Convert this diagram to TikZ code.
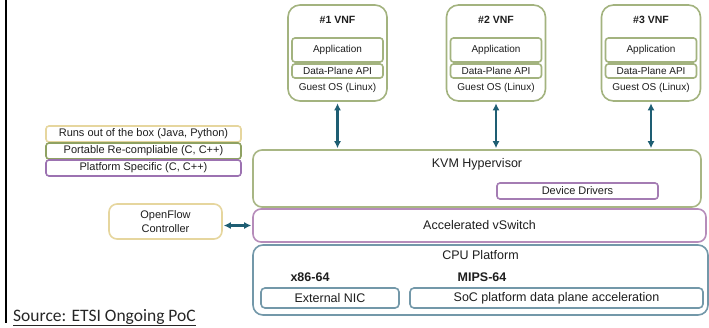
\documentclass[tikz,border=0pt]{standalone}
\usepackage{fontspec}
\setmainfont{Liberation Sans}
\newfontfamily\calib{Carlito}
\usetikzlibrary{arrows.meta}
\definecolor{vnfgreen}{HTML}{A3B37F}
\definecolor{kvmgreen}{HTML}{A8B684}
\definecolor{ddpurple}{HTML}{A47CB3}
\definecolor{vswpink}{HTML}{B68CBA}
\definecolor{cputeal}{HTML}{7398A9}
\definecolor{tan}{HTML}{E6D69E}
\definecolor{lgreen}{HTML}{8FA262}
\definecolor{lpurple}{HTML}{9C72B1}
\definecolor{arrowteal}{HTML}{1E5E73}
\definecolor{txt}{HTML}{1E1E1E}
\begin{document}
\begin{tikzpicture}[x=1pt,y=-1pt,
  every node/.style={text=txt},
  box/.style={draw, fill=white, inner sep=0pt, line width=1.6pt},
  vnfbox/.style={box, draw=vnfgreen, rounded corners=12pt, minimum width=99pt, minimum height=96pt},
  inbox/.style={box, draw=vnfgreen, rounded corners=3pt, minimum width=91pt},
  lbox/.style={box, rounded corners=3pt, minimum width=195pt, minimum height=16pt, font=\fontsize{11}{13}\selectfont},
  biarrow/.style={{Latex[length=7pt,width=7pt]}-{Latex[length=7pt,width=7pt]}, draw=arrowteal, line width=2.2pt},
  small/.style={font=\fontsize{10}{12}\selectfont},
  big/.style={font=\fontsize{12.5}{15}\selectfont},
  title/.style={font=\bfseries\fontsize{10.5}{12}\selectfont}
]
\useasboundingbox (0,0) rectangle (709,327);
\draw[line width=2pt, black] (5.5,0) -- (5.5,323);

% VNF boxes
\foreach \i/\x in {1/337.5, 2/496, 3/651} {
  \node[vnfbox] (vnf\i) at (\x,53) {};
  \node[title] (t\i) at (\x,20) {\#\i\ VNF};
  \node[inbox, minimum height=24pt, small] (app\i) at (\x,50) {Application};
  \node[inbox, minimum height=14pt, small] (dp\i) at (\x,71) {Data-Plane API};
  \node[small] (g\i) at (\x,88) {Guest OS (Linux)};
}

% KVM
\node[box, draw=kvmgreen, rounded corners=9pt, minimum width=448pt, minimum height=57pt] (kvm) at (477,178.5) {};
\node[big] (kvmt) at (477,164) {KVM Hypervisor};
\node[box, draw=ddpurple, rounded corners=3pt, minimum width=161pt, minimum height=16pt, font=\fontsize{11}{13}\selectfont] (dd) at (577.5,191) {Device Drivers};

% vSwitch
\node[box, draw=vswpink, rounded corners=8pt, minimum width=453pt, minimum height=33pt, big] (vsw) at (479.5,225.5) {Accelerated vSwitch};

% CPU
\node[box, draw=cputeal, rounded corners=10pt, minimum width=455pt, minimum height=70pt] (cpu) at (480.5,280) {};
\node[big] (cput) at (480.5,255) {CPU Platform};
\node[big, font=\bfseries\fontsize{12.5}{15}\selectfont] (x86) at (310,277) {x86-64};
\node[big, font=\bfseries\fontsize{12.5}{15}\selectfont] (mips) at (482,277) {MIPS-64};
\node[box, draw=cputeal, rounded corners=4pt, minimum width=138pt, minimum height=20pt, big] (nic) at (330,298) {External NIC};
\node[box, draw=cputeal, rounded corners=4pt, minimum width=293pt, minimum height=20pt, big] (soc) at (556.5,298) {SoC platform data plane acceleration};

% left boxes
\node[lbox, draw=tan] (rb1) at (143.5,134) {Runs out of the box (Java, Python)};
\node[lbox, draw=lgreen] (rb2) at (143.5,151) {Portable Re-compliable (C, C++)};
\node[lbox, draw=lpurple] (rb3) at (143.5,168) {Platform Specific (C, C++)};

\node[box, draw=tan, rounded corners=8pt, minimum width=113pt, minimum height=35pt, align=center, font=\fontsize{11}{14}\selectfont] (ofc) at (165.5,221.5) {OpenFlow\\Controller};

% arrows
\foreach \i in {1,2,3} {
  \draw[biarrow, shorten <=1.5pt, shorten >=1pt] (vnf\i.south) -- (vnf\i.south |- kvm.north);
}
\draw[biarrow, shorten <=1pt, shorten >=1pt] (vsw.west -| ofc.east) -- (vsw.west);

% source
\node[anchor=base west, inner sep=0pt, font=\calib\fontsize{17.5}{20}\selectfont, text=black!85] (src) at (13,321) {\underline{Source: ETSI Ongoing PoC}};
\end{tikzpicture}
\end{document}
